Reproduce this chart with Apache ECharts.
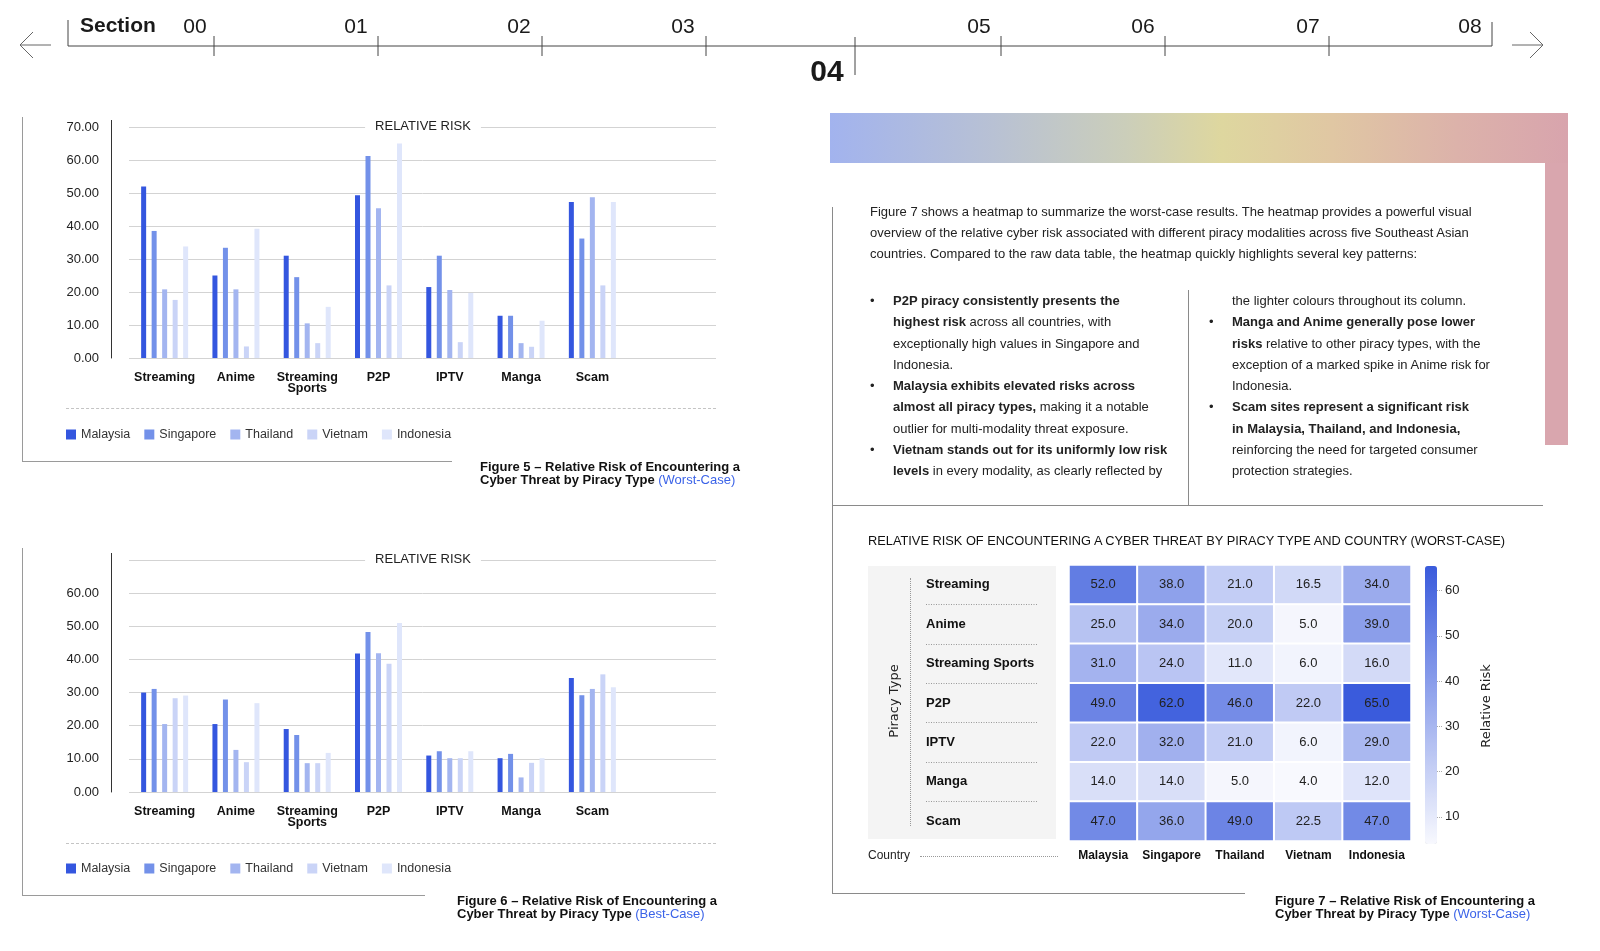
<!DOCTYPE html>
<html>
<head>
<meta charset="utf-8">
<script src="https://cdn.jsdelivr.net/npm/echarts@6/dist/echarts.min.js"></script>
<style>
html,body{margin:0;padding:0;background:#fff;}
body{width:1600px;height:951px;position:relative;overflow:hidden;font-family:"Liberation Sans",Arial,sans-serif;color:#1a1a1a;}
#chart{position:absolute;left:0;top:0;width:1600px;height:951px;z-index:1;}
.z0{position:absolute;z-index:0;}
.a{position:absolute;z-index:2;white-space:nowrap;}
.c{position:absolute;z-index:2;white-space:nowrap;transform:translate(-50%,-50%);}
.hl{position:absolute;z-index:2;height:0;border-top:1px solid #8a8a8a;}
.vl{position:absolute;z-index:2;width:0;border-left:1px solid #8a8a8a;}
.cap{position:absolute;z-index:2;white-space:nowrap;font-weight:bold;font-size:13px;line-height:13px;color:#111;}
.blue{color:#3b63e8;font-weight:normal;}
.para{font-size:13px;line-height:21px;color:#222;}
.bl{position:absolute;z-index:2;font-size:13px;line-height:21.25px;color:#222;white-space:nowrap;}
.bl .dot{position:absolute;left:-23px;}
</style>
</head>
<body>
<!-- navigation -->
<svg class="a" style="left:0;top:0" width="1600" height="90">
  <g stroke="#444" stroke-width="1" fill="none">
    <line x1="68" y1="46" x2="1492" y2="46"/>
    <line x1="68" y1="20" x2="68" y2="46"/>
    <line x1="1492" y1="22" x2="1492" y2="46"/>
    <line x1="214" y1="36" x2="214" y2="56"/>
    <line x1="378" y1="36" x2="378" y2="56"/>
    <line x1="542" y1="36" x2="542" y2="56"/>
    <line x1="706" y1="36" x2="706" y2="56"/>
    <line x1="855" y1="37" x2="855" y2="75"/>
    <line x1="1001" y1="36" x2="1001" y2="56"/>
    <line x1="1165" y1="36" x2="1165" y2="56"/>
    <line x1="1329" y1="36" x2="1329" y2="56"/>
    <line x1="20" y1="45" x2="51" y2="45" stroke="#666"/>
    <polyline points="33,32 20,45 33,58" stroke="#666"/>
    <line x1="1512" y1="45" x2="1543" y2="45" stroke="#666"/>
    <polyline points="1530,32 1543,45 1530,58" stroke="#666"/>
  </g>
</svg>
<div class="a" style="left:80px;top:13px;font-size:21px;font-weight:bold;">Section</div>
<div class="c" style="left:195px;top:26px;font-size:21px;">00</div>
<div class="c" style="left:356px;top:26px;font-size:21px;">01</div>
<div class="c" style="left:519px;top:26px;font-size:21px;">02</div>
<div class="c" style="left:683px;top:26px;font-size:21px;">03</div>
<div class="c" style="left:979px;top:26px;font-size:21px;">05</div>
<div class="c" style="left:1143px;top:26px;font-size:21px;">06</div>
<div class="c" style="left:1308px;top:26px;font-size:21px;">07</div>
<div class="c" style="left:1470px;top:26px;font-size:21px;">08</div>
<div class="c" style="left:827px;top:71px;font-size:30px;font-weight:bold;">04</div>

<!-- gradient banner -->
<div class="z0" style="left:830px;top:113px;width:738px;height:50px;background:linear-gradient(to right,#a2b3ee 0%,#b8c1d4 22%,#cbceba 40%,#ded79f 53%,#e0c7a3 68%,#dcb2aa 85%,#d8a4ad 100%);"></div>
<div class="z0" style="left:1545px;top:163px;width:23px;height:282px;background:#d9a6ae;"></div>

<!-- frames of figures 5 and 6 -->
<div class="vl" style="left:22px;top:117px;height:344px;border-color:#9a9a9a;"></div>
<div class="hl" style="left:22px;top:461px;width:430px;border-color:#9a9a9a;"></div>
<div class="hl" style="left:66px;top:408px;width:650px;border-top:1px dashed #c4c4c4;"></div>
<div class="vl" style="left:22px;top:548px;height:347px;border-color:#9a9a9a;"></div>
<div class="hl" style="left:22px;top:895px;width:403px;border-color:#9a9a9a;"></div>
<div class="hl" style="left:66px;top:843px;width:650px;border-top:1px dashed #c4c4c4;"></div>
<div class="vl" style="left:111px;top:120px;height:8px;border-color:#333;"></div>
<div class="vl" style="left:111px;top:553px;height:8px;border-color:#333;"></div>

<div class="cap" style="left:480px;top:460px;">Figure 5 – Relative Risk of Encountering a<br>Cyber Threat by Piracy Type <span class="blue">(Worst-Case)</span></div>
<div class="cap" style="left:457px;top:894px;">Figure 6 – Relative Risk of Encountering a<br>Cyber Threat by Piracy Type <span class="blue">(Best-Case)</span></div>
<div class="cap" style="left:1275px;top:894px;">Figure 7 – Relative Risk of Encountering a<br>Cyber Threat by Piracy Type <span class="blue">(Worst-Case)</span></div>

<!-- right text block -->
<div class="vl" style="left:832px;top:207px;height:686px;"></div>
<div class="hl" style="left:832px;top:505px;width:711px;"></div>
<div class="vl" style="left:1188px;top:290px;height:215px;"></div>
<div class="hl" style="left:832px;top:893px;width:413px;"></div>

<div class="a para" style="left:870px;top:201px;">Figure 7 shows a heatmap to summarize the worst-case results. The heatmap provides a powerful visual<br>overview of the relative cyber risk associated with different piracy modalities across five Southeast Asian<br>countries. Compared to the raw data table, the heatmap quickly highlights several key patterns:</div>

<div class="bl" style="left:893px;top:290px;">
<span class="dot">•</span><b>P2P piracy consistently presents the</b><br><b>highest risk</b> across all countries, with<br>exceptionally high values in Singapore and<br>Indonesia.<br>
<span class="dot" style="top:85px">•</span><b>Malaysia exhibits elevated risks across</b><br><b>almost all piracy types,</b> making it a notable<br>outlier for multi-modality threat exposure.<br>
<span class="dot" style="top:149px">•</span><b>Vietnam stands out for its uniformly low risk</b><br><b>levels</b> in every modality, as clearly reflected by
</div>
<div class="bl" style="left:1232px;top:290px;">
the lighter colours throughout its column.<br>
<span class="dot" style="top:21px">•</span><b>Manga and Anime generally pose lower</b><br><b>risks</b> relative to other piracy types, with the<br>exception of a marked spike in Anime risk for<br>Indonesia.<br>
<span class="dot" style="top:106px">•</span><b>Scam sites represent a significant risk</b><br><b>in Malaysia, Thailand, and Indonesia,</b><br>reinforcing the need for targeted consumer<br>protection strategies.
</div>

<!-- heatmap decorations -->
<div class="a" style="left:868px;top:533px;font-size:12.8px;color:#111;">RELATIVE RISK OF ENCOUNTERING A CYBER THREAT BY PIRACY TYPE AND COUNTRY (WORST-CASE)</div>
<div class="z0" style="left:868px;top:566px;width:188px;height:273px;background:#f4f4f4;"></div>
<div class="vl" style="left:910px;top:578px;height:248px;border-left:1px dotted #999;"></div>
<div class="c" style="left:893px;top:701px;transform:translate(-50%,-50%) rotate(-90deg);font-family:'DejaVu Sans',sans-serif;font-size:13px;color:#222;">Piracy Type</div>
<div class="a" style="left:868px;top:848px;font-size:12px;color:#222;">Country</div>
<div class="hl" style="left:920px;top:856px;width:138px;border-top:1px dotted #999;"></div>

<div id="chart"></div>

<script>
// ---------- data ----------
const categories = ['Streaming', 'Anime', 'Streaming Sports', 'P2P', 'IPTV', 'Manga', 'Scam'];
const countries = ['Malaysia', 'Singapore', 'Thailand', 'Vietnam', 'Indonesia'];

// Figure 5 (worst case), one array per country over categories
const worstMalaysia  = [52.0, 25.0, 31.0, 49.3, 21.5, 12.8, 47.3];
const worstSingapore = [38.5, 33.4, 24.5, 61.2, 31.0, 12.8, 36.2];
const worstThailand  = [20.8, 20.8, 10.5, 45.4, 20.6, 4.5, 48.7];
const worstVietnam   = [17.6, 3.5, 4.5, 22.0, 4.8, 3.4, 22.0];
const worstIndonesia = [33.8, 39.2, 15.5, 65.0, 19.7, 11.3, 47.3];

// Figure 6 (best case)
const bestMalaysia  = [30.0, 20.5, 19.0, 41.8, 11.0, 10.2, 34.4];
const bestSingapore = [31.1, 27.9, 17.2, 48.3, 12.3, 11.5, 29.2];
const bestThailand  = [20.5, 12.7, 8.7, 41.9, 10.2, 4.4, 31.1];
const bestVietnam   = [28.3, 9.0, 8.7, 38.7, 10.2, 8.8, 35.5];
const bestIndonesia = [29.1, 26.8, 11.8, 51.0, 12.3, 10.2, 31.6];

// Figure 7 heatmap, one array per piracy type over countries
const heatStreaming       = [52.0, 38.0, 21.0, 16.5, 34.0];
const heatAnime           = [25.0, 34.0, 20.0, 5.0, 39.0];
const heatStreamingSports = [31.0, 24.0, 11.0, 6.0, 16.0];
const heatP2P             = [49.0, 62.0, 46.0, 22.0, 65.0];
const heatIPTV            = [22.0, 32.0, 21.0, 6.0, 29.0];
const heatManga           = [14.0, 14.0, 5.0, 4.0, 12.0];
const heatScam            = [47.0, 36.0, 49.0, 22.5, 47.0];

const colorbarTicks = [10, 20, 30, 40, 50, 60];

// ---------- styles ----------
const barColors = ['#3456df', '#7391e9', '#a3b5f0', '#cad4f7', '#dfe6fb'];
const FONT = '"Liberation Sans", Arial, sans-serif';

const worstSets = [worstMalaysia, worstSingapore, worstThailand, worstVietnam, worstIndonesia];
const bestSets = [bestMalaysia, bestSingapore, bestThailand, bestVietnam, bestIndonesia];
const heatRows = [heatStreaming, heatAnime, heatStreamingSports, heatP2P, heatIPTV, heatManga, heatScam];

const heatData = [];
heatRows.forEach((row, r) => row.forEach((v, c) => heatData.push([c, r, v])));

function barSeries(sets, axisIdx) {
  return countries.map((name, i) => ({
    name: name, type: 'bar', xAxisIndex: axisIdx, yAxisIndex: axisIdx,
    data: sets[i], barWidth: 5, barGap: '110%',
    itemStyle: { color: barColors[i] }, emphasis: { disabled: true }, animation: false
  }));
}

function gridLineAxis(idx, hideTop) {
  return {
    gridIndex: idx, type: 'value', min: 0, max: 70, interval: 10, offset: 18,
    axisLine: { show: true, lineStyle: { color: '#333', width: 1 } },
    axisTick: { show: false },
    axisLabel: { margin: 12, color: '#222', fontSize: 13, fontFamily: FONT,
      formatter: v => (hideTop && v === 70) ? '' : v.toFixed(2) },
    splitLine: { show: true, lineStyle: { color: '#d3d3d3', width: 1 } }
  };
}
function catAxis(idx) {
  return {
    gridIndex: idx, type: 'category', data: categories,
    axisLine: { show: false }, axisTick: { show: false },
    axisLabel: { interval: 0, margin: 14, color: '#111', fontSize: 12.5, fontWeight: 'bold', fontFamily: FONT,
      lineHeight: 11, verticalAlign: 'top', formatter: v => v.replace(' ', '\n') }
  };
}
function legendAt(top) {
  return { data: countries, left: 66, top: top, orient: 'horizontal', icon: 'rect',
    itemWidth: 10, itemHeight: 10, itemGap: 14, padding: 0, selectedMode: false,
    textStyle: { fontSize: 12.5, color: '#333', fontFamily: FONT } };
}
function titleAt(top) {
  return { text: 'RELATIVE RISK', left: 413, top: top, textAlign: 'center',
    backgroundColor: '#fff', padding: [1, 10],
    textStyle: { fontSize: 13, fontWeight: 'normal', color: '#222', fontFamily: FONT } };
}

const option = {
  animation: false,
  textStyle: { fontFamily: FONT },
  title: [titleAt(119), titleAt(552)],
  legend: [legendAt(428), legendAt(862)],
  grid: [
    { left: 129, top: 127, width: 587, height: 231 },
    { left: 129, top: 127, width: 499, height: 231 },
    { left: 129, top: 560, width: 587, height: 232 },
    { left: 129, top: 560, width: 499, height: 232 },
    { left: 1069, top: 565, width: 342, height: 276 },
    { left: 926, top: 565, width: 112, height: 276 },
    { left: 1437, top: 568, width: 1, height: 276 }
  ],
  xAxis: [
    { gridIndex: 0, type: 'category', data: [''], show: false },
    catAxis(1),
    { gridIndex: 2, type: 'category', data: [''], show: false },
    catAxis(3),
    { gridIndex: 4, type: 'category', data: countries, position: 'bottom',
      axisLine: { show: false }, axisTick: { show: false },
      axisLabel: { interval: 0, margin: 9, color: '#111', fontSize: 12, fontWeight: 'bold', fontFamily: FONT } },
    { gridIndex: 5, type: 'value', show: false },
    { gridIndex: 6, type: 'value', show: false }
  ],
  yAxis: [
    gridLineAxis(0, false),
    { gridIndex: 1, type: 'value', min: 0, max: 70, show: false },
    gridLineAxis(2, true),
    { gridIndex: 3, type: 'value', min: 0, max: 70, show: false },
    { gridIndex: 4, type: 'category', data: categories, inverse: true,
      axisLine: { show: false }, axisTick: { show: false },
      axisLabel: { interval: 0, align: 'left', margin: 143, color: '#111', fontSize: 13, fontWeight: 'bold', fontFamily: FONT } },
    { gridIndex: 5, type: 'category', data: categories, inverse: true,
      axisLine: { show: false }, axisTick: { show: false }, axisLabel: { show: false },
      splitLine: { show: true, interval: 0, showMinLine: false, showMaxLine: false,
        lineStyle: { type: [1, 1.5], color: '#999', width: 1 } } },
    { gridIndex: 6, type: 'value', min: 4, max: 65, position: 'right',
      axisLine: { show: false },
      axisTick: { show: true, customValues: colorbarTicks, length: 5, inside: false,
        lineStyle: { color: '#aaa', type: [1, 1] } },
      axisLabel: { customValues: colorbarTicks, margin: 7, color: '#222', fontSize: 13, fontFamily: FONT },
      splitLine: { show: false },
      name: 'Relative Risk', nameLocation: 'middle', nameGap: 42, nameRotate: 90,
      nameTextStyle: { fontFamily: '"DejaVu Sans", sans-serif', fontSize: 13, color: '#222' } }
  ],
  visualMap: {
    type: 'continuous', min: 4, max: 65, seriesIndex: 10, orient: 'vertical',
    left: 1425, top: 566, itemWidth: 12, itemHeight: 278, padding: 0,
    calculable: false, hoverLink: false, text: null,
    inRange: { color: ['#f8f9fe', '#3a5bdc'] }
  },
  series: [].concat(
    barSeries(worstSets, 1),
    barSeries(bestSets, 3),
    [{
      type: 'heatmap', xAxisIndex: 4, yAxisIndex: 4, data: heatData,
      label: { show: true, color: '#222', fontSize: 13, fontFamily: FONT,
        formatter: p => p.value[2].toFixed(1) },
      itemStyle: { borderColor: '#fff', borderWidth: 2 },
      emphasis: { disabled: true }
    }]
  )
};

const chart = echarts.init(document.getElementById('chart'));
chart.setOption(option);
</script>
</body>
</html>
